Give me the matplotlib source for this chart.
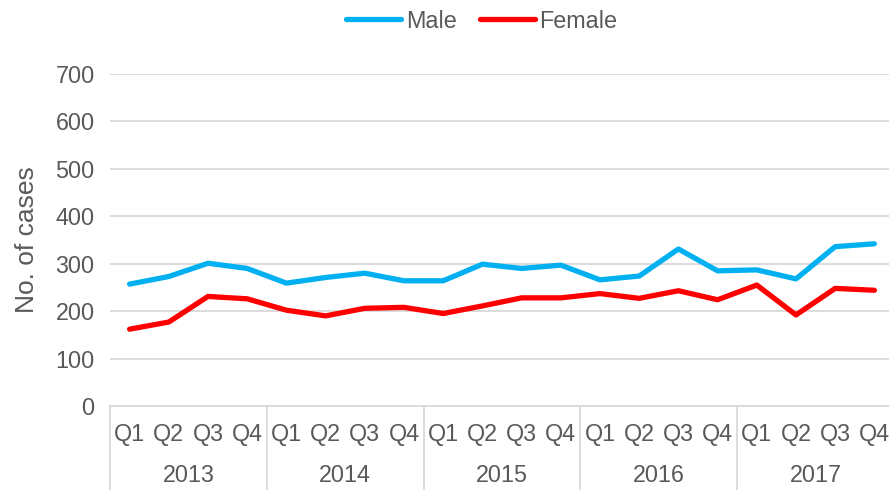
import matplotlib
matplotlib.use("Agg")
import matplotlib.pyplot as plt
import matplotlib.transforms as mtransforms

plt.rcParams['font.family'] = ['Liberation Sans', 'DejaVu Sans']

years = ["2013", "2014", "2015", "2016", "2017"]
quarters = ["Q1", "Q2", "Q3", "Q4"]
male = [257, 273, 301, 290, 259, 271, 280, 264, 264, 299,
        290, 297, 266, 274, 331, 285, 287, 268, 336, 342]
female = [162, 177, 231, 226, 202, 190, 206, 208, 195, 211,
          228, 228, 237, 227, 243, 224, 255, 192, 248, 244]

text_col = "#595959"
grid_col = "#D9D9D9"
fs = 16.8

fig = plt.figure(figsize=(8.89, 4.9), dpi=100)
ax = fig.add_axes([110 / 889, 84 / 490, 784 / 889, 332 / 490])

x = list(range(len(male)))
ax.plot(x, male, color="#00B0F0", lw=3.8, solid_capstyle="round", label="Male", zorder=3)
ax.plot(x, female, color="#FF0000", lw=3.8, solid_capstyle="round", label="Female", zorder=3)

ax.set_ylim(0, 700)
ax.set_xlim(-0.5, len(male) - 0.5)
ax.set_yticks(range(0, 701, 100))
ax.yaxis.grid(True, color=grid_col, lw=1.3)
ax.set_axisbelow(True)
for s in ["top", "right", "left"]:
    ax.spines[s].set_visible(False)
ax.spines["bottom"].set_color(grid_col)
ax.spines["bottom"].set_linewidth(1.3)
ax.tick_params(axis="y", length=0, labelsize=fs, labelcolor=text_col, pad=11)
ax.set_xticks(x)
ax.set_xticklabels(quarters * len(years))
ax.tick_params(axis="x", length=0, labelsize=fs, labelcolor=text_col, pad=12)
ax.set_ylabel("No. of cases", fontsize=19, color=text_col, labelpad=12)

# year level of the category axis
trans = mtransforms.blended_transform_factory(ax.transData, ax.transAxes)
for i, yr in enumerate(years):
    ax.text(i * 4 + 1.5, -0.208, yr, transform=trans, ha="center", va="center",
            fontsize=fs, color=text_col)
for i in range(len(years) + 1):
    ax.plot([i * 4 - 0.5, i * 4 - 0.5], [0, -0.26], transform=trans,
            color=grid_col, lw=1.3, clip_on=False)

fig.legend(loc="center", bbox_to_anchor=(0.542, 0.957), ncol=2, frameon=False,
           fontsize=fs, labelcolor=text_col, handlelength=2.35, handletextpad=0.2,
           columnspacing=1.0)

fig.savefig("out.png", dpi=100)
